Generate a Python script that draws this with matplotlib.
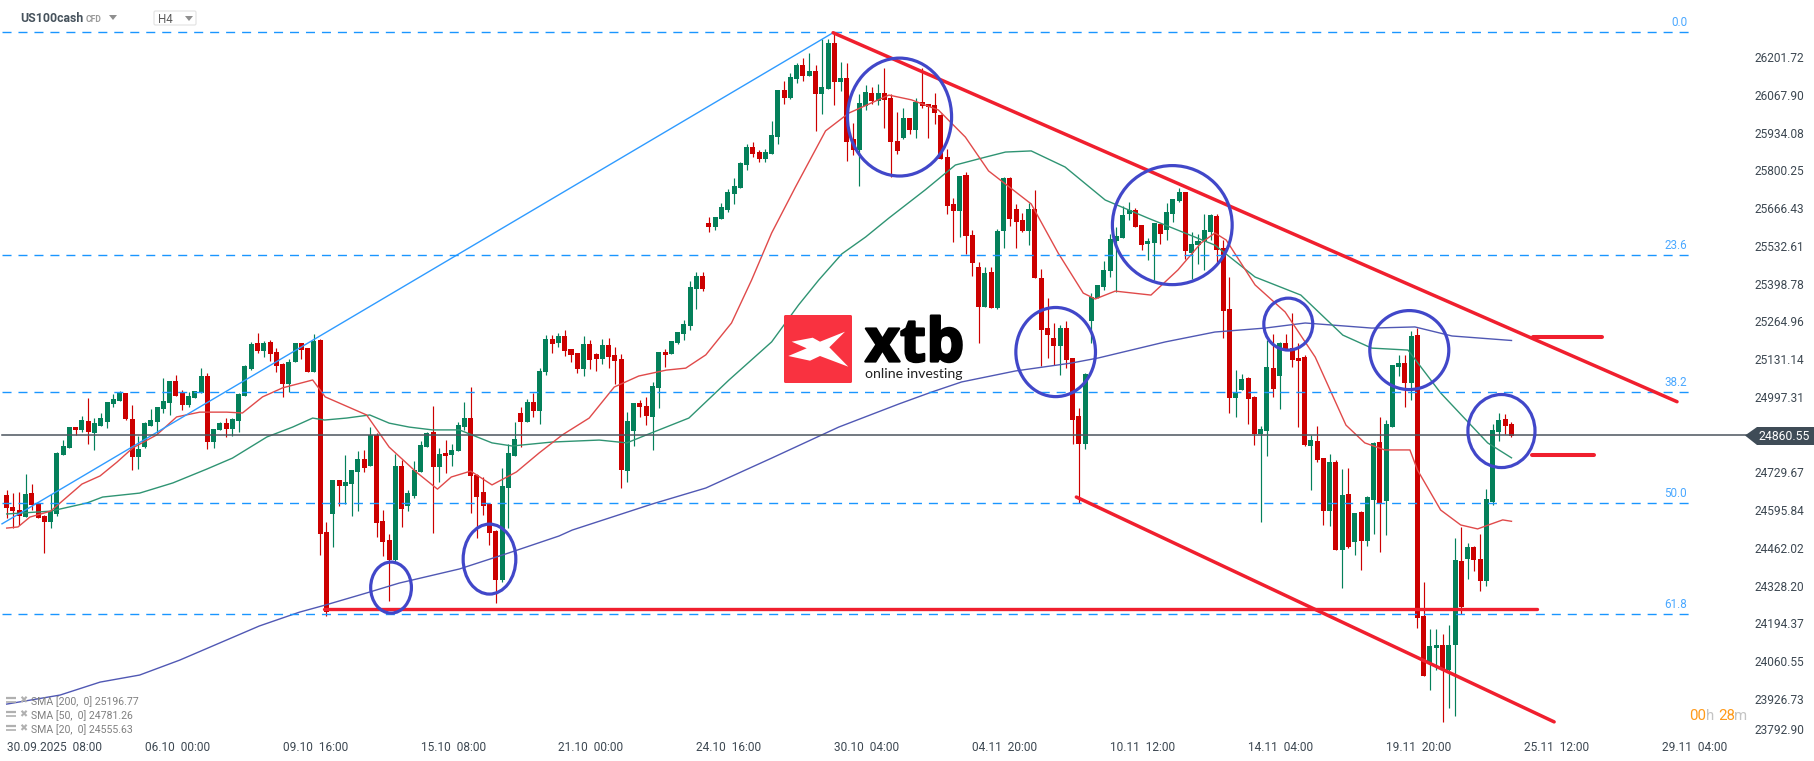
import matplotlib
matplotlib.use('Agg')
import matplotlib.pyplot as plt
import matplotlib.patheffects as pe
import numpy as np
from matplotlib.patches import Ellipse, FancyBboxPatch

opens = [24649, 24607, 24595, 24573, 24656, 24619, 24575, 24554, 24582, 24791,
         24816, 24890, 24880, 24910, 24869, 24894, 24908, 24972, 24983, 25010,
         24919, 24784, 24819, 24894, 24908, 24954, 24975, 25053, 25011, 24968,
         24993, 25012, 25071, 24837, 24880, 24905, 24883, 24912, 25000, 25096,
         25188, 25160, 25192, 25156, 25114, 25043, 25121, 25188, 25170, 25085,
         25199, 24518, 24582, 24702, 24681, 24688, 24731, 24777, 24752, 24862,
         24557, 24490, 24419, 24752, 24610, 24646, 24731, 24819, 24873, 24749,
         24798, 24791, 24805, 24890, 24922, 24720, 24660, 24617, 24521, 24348,
         24674, 24787, 24940, 24908, 24979, 24947, 25085, 25202, 25188, 25212,
         25166, 25152, 25095, 25184, 25149, 25131, 25181, 25145, 25131, 24734,
         24876, 24975, 24964, 24925, 25028, 25156, 25149, 25188, 25220, 25248,
         25380, 25426, 25613, 25599, 25628, 25660, 25716, 25738, 25819, 25883,
         25865, 25840, 25858, 25918, 26085, 26057, 26124, 26174, 26135, 26152,
         26071, 26088, 26252, 26113, 26127, 25911, 25872, 26028, 26074, 26046,
         26074, 26057, 25904, 25915, 25986, 25943, 26043, 26036, 26032, 25997,
         25848, 25681, 25656, 25784, 25571, 25457, 25315, 25440, 25312, 25585,
         25773, 25663, 25624, 25585, 25663, 25418, 25241, 25206, 25177, 25241,
         25135, 24929, 24830, 25266, 25346, 25386, 25443, 25549, 25560, 25645,
         25659, 25606, 25539, 25542, 25610, 25588, 25645, 25691, 25723, 25507,
         25535, 25549, 25581, 25638, 25525, 25308, 24993, 25021, 25064, 24996,
         24865, 24876, 25099, 25071, 25188, 25170, 25135, 25138, 24823, 24840,
         24780, 24592, 24766, 24454, 24653, 24482, 24589, 24486, 24631, 24837,
         24628, 24890, 25103, 25117, 25046, 25216, 24220, 24052, 24106, 24117,
         24028, 24117, 24415, 24422, 24464, 24422, 24344, 24624, 24872, 24918,
         24901]
closes = [24604, 24593, 24576, 24652, 24614, 24569, 24554, 24591, 24798, 24823,
          24890, 24880, 24914, 24873, 24905, 24922, 24978, 24990, 25013, 24918,
          24784, 24812, 24905, 24915, 24961, 24983, 25053, 25000, 24968, 25000,
          25018, 25071, 24837, 24883, 24905, 24883, 24919, 25007, 25107, 25185,
          25160, 25188, 25149, 25106, 25043, 25121, 25188, 25163, 25085, 25195,
          24511, 24236, 24702, 24681, 24695, 24738, 24777, 24745, 24862, 24550,
          24483, 24419, 24752, 24600, 24656, 24738, 24827, 24869, 24749, 24795,
          24788, 24809, 24897, 24922, 24716, 24642, 24610, 24514, 24348, 24681,
          24798, 24847, 24908, 24979, 24947, 25088, 25202, 25184, 25212, 25159,
          25145, 25095, 25184, 25127, 25131, 25181, 25138, 25124, 24737, 24911,
          24975, 24961, 24929, 25035, 25156, 25145, 25195, 25227, 25255, 25386,
          25426, 25380, 25599, 25635, 25670, 25723, 25745, 25826, 25883, 25858,
          25840, 25865, 25925, 26085, 26057, 26131, 26174, 26135, 26152, 26071,
          26096, 26252, 26113, 26127, 25901, 25872, 26039, 26078, 26046, 26074,
          26050, 25901, 25869, 25986, 25943, 26043, 26029, 26025, 26004, 25841,
          25674, 25656, 25780, 25568, 25472, 25315, 25436, 25312, 25585, 25773,
          25627, 25617, 25585, 25663, 25418, 25234, 25216, 25177, 25241, 25128,
          24915, 24830, 25078, 25351, 25393, 25447, 25557, 25567, 25642, 25659,
          25599, 25535, 25549, 25613, 25574, 25652, 25698, 25723, 25514, 25539,
          25549, 25588, 25642, 25518, 25301, 24993, 25014, 25060, 24989, 24865,
          24883, 25103, 25025, 25188, 25163, 25128, 25124, 24826, 24844, 24773,
          24592, 24766, 24454, 24649, 24465, 24585, 24486, 24642, 24833, 24621,
          24901, 25110, 25117, 25046, 25213, 24213, 24007, 24113, 24117, 24028,
          24117, 24418, 24252, 24464, 24418, 24344, 24635, 24879, 24915, 24893,
          24860]
highs = [24667, 24658, 24661, 24724, 24688, 24626, 24578, 24653, 24802, 24844,
         24890, 24890, 24929, 24993, 24921, 24940, 24978, 25007, 25018, 25012,
         24968, 24858, 24908, 24954, 24961, 25064, 25053, 25075, 25022, 25014,
         25018, 25100, 25082, 24883, 24909, 24922, 24921, 25010, 25110, 25192,
         25223, 25195, 25199, 25170, 25118, 25131, 25188, 25188, 25172, 25220,
         25202, 24554, 24702, 24702, 24791, 24738, 24805, 24809, 24890, 24869,
         24596, 24511, 24795, 24773, 24667, 24770, 24841, 24874, 24965, 24816,
         24844, 24830, 24909, 24979, 25032, 24723, 24713, 24622, 24525, 24745,
         24830, 24908, 24961, 24989, 25010, 25100, 25216, 25216, 25223, 25234,
         25166, 25152, 25212, 25198, 25152, 25202, 25205, 25173, 25149, 24943,
         24975, 24986, 24996, 25049, 25156, 25166, 25195, 25227, 25269, 25407,
         25440, 25440, 25635, 25635, 25684, 25734, 25773, 25830, 25894, 25901,
         25872, 25876, 25975, 26085, 26117, 26145, 26181, 26198, 26216, 26174,
         26266, 26266, 26283, 26184, 26181, 25967, 26071, 26103, 26096, 26106,
         26163, 26071, 26007, 26021, 25986, 26057, 26163, 26036, 26075, 26000,
         25876, 25702, 25780, 25795, 25589, 25475, 25457, 25457, 25592, 25776,
         25776, 25681, 25649, 25684, 25730, 25450, 25347, 25259, 25252, 25266,
         25135, 24957, 25082, 25364, 25393, 25479, 25574, 25599, 25674, 25688,
         25666, 25606, 25560, 25613, 25610, 25684, 25698, 25737, 25723, 25581,
         25574, 25645, 25645, 25645, 25553, 25422, 25092, 25078, 25067, 25000,
         24894, 25199, 25220, 25191, 25220, 25294, 25188, 25145, 24862, 24894,
         24780, 24794, 24773, 24741, 24745, 24585, 24592, 24646, 24837, 24926,
         24915, 25110, 25145, 25145, 25230, 25242, 24340, 24174, 24174, 24156,
         24188, 24496, 24535, 24479, 24468, 24511, 24670, 24901, 24939, 24936,
         24908]
lows = [24567, 24532, 24543, 24573, 24596, 24567, 24445, 24532, 24575, 24791,
        24816, 24862, 24874, 24830, 24809, 24894, 24886, 24961, 24983, 24915,
        24738, 24741, 24816, 24894, 24868, 24939, 24933, 25000, 24951, 24962,
        24993, 25012, 24812, 24816, 24880, 24856, 24858, 24873, 25000, 25092,
        25154, 25140, 25124, 25085, 24996, 25016, 25121, 25131, 25085, 25085,
        24437, 24220, 24466, 24610, 24617, 24575, 24593, 24731, 24752, 24500,
        24433, 24274, 24413, 24536, 24593, 24639, 24731, 24818, 24515, 24695,
        24727, 24752, 24805, 24879, 24585, 24496, 24578, 24472, 24266, 24340,
        24532, 24787, 24819, 24908, 24925, 24901, 25074, 25152, 25173, 25142,
        25120, 25081, 25071, 25095, 25088, 25113, 25099, 25042, 24674, 24695,
        24823, 24925, 24897, 24808, 24957, 25103, 25149, 25184, 25198, 25234,
        25309, 25372, 25582, 25589, 25628, 25652, 25681, 25738, 25801, 25847,
        25830, 25830, 25858, 25894, 26035, 26053, 26110, 26117, 26135, 25940,
        26000, 26088, 26032, 26081, 25833, 25855, 25745, 26014, 26035, 26032,
        25950, 25777, 25858, 25912, 25929, 25915, 26021, 25915, 25965, 25841,
        25646, 25546, 25563, 25504, 25426, 25188, 25315, 25312, 25308, 25525,
        25603, 25525, 25581, 25535, 25418, 25106, 25135, 25110, 25074, 25099,
        24830, 24622, 24812, 25188, 25346, 25376, 25422, 25369, 25560, 25624,
        25599, 25518, 25482, 25411, 25539, 25553, 25617, 25688, 25486, 25415,
        25468, 25447, 25553, 25475, 25206, 24940, 24926, 25021, 24901, 24826,
        24554, 24787, 24996, 24954, 25163, 25103, 24890, 24823, 24667, 24766,
        24543, 24539, 24454, 24319, 24461, 24436, 24383, 24468, 24511, 24447,
        24507, 24890, 25071, 24961, 24986, 24177, 24007, 23957, 24028, 23844,
        23894, 23865, 24227, 24351, 24379, 24308, 24326, 24613, 24840, 24867,
        24854]

sma20_bar = [0, 1.8, 3.7, 7, 12, 14.9, 17.6, 20.1, 23.9, 27.1, 30.8, 35.1, 37.6, 40.8, 44, 48.8,
             50.8, 57.4, 61, 65.3, 68.7, 70.9, 74, 77.4, 81.3, 84.9, 88.6, 92.9, 96.9, 100.8,
             105.2, 108.3, 111.5, 115.6, 118.8, 122, 125.8, 130.6, 134.3, 140.7, 144.3, 148.6,
             152.9, 156.6, 163.4, 167.7, 171.7, 173.6, 176.8, 182.5, 186.8, 190.5, 192.7, 194.5,
             199.1, 203.9, 208.7, 213.6, 216.6, 219.8, 223.8, 225, 228.7, 231.9, 234.6, 236.7,
             238.6, 240]
sma20 = [24532, 24536, 24571, 24592, 24688, 24717, 24766, 24816, 24862, 24926, 24943, 24943, 24940,
         24997, 25029, 25057, 24997, 24933, 24819, 24731, 24670, 24713, 24734, 24685, 24731, 24798,
         24862, 24922, 25032, 25071, 25092, 25099, 25146, 25259, 25411, 25578, 25741, 25940, 26003,
         26067, 26050, 26014, 25918, 25798, 25681, 25507, 25365, 25344, 25372, 25358, 25447, 25543,
         25578, 25553, 25394, 25298, 25138, 24897, 24834, 24809, 24809, 24738, 24596, 24543, 24529,
         24546, 24561, 24556]
sma50_bar = [0, 7, 12.8, 15.3, 21.2, 26.5, 31.9, 36, 41.5, 45.6, 48.8, 50.7, 54.2, 57.9, 61, 64.2,
             67.9, 72.2, 77.4, 80.6, 87, 94.5, 98.9, 102, 108.8, 115.2, 122, 126.3, 129.5, 133.2,
             137, 140.7, 146.5, 151.3, 156.1, 159.3, 163.4, 168.8, 175.2, 182, 192.7, 199.1, 206.4,
             213.1, 217.7, 223.5, 228.7, 236.2, 240]
sma50 = [24582, 24592, 24621, 24642, 24656, 24692, 24741, 24780, 24855, 24890, 24922, 24915, 24922,
         24933, 24904, 24890, 24880, 24880, 24834, 24823, 24837, 24844, 24834, 24862, 24922, 25057,
         25192, 25323, 25411, 25504, 25564, 25631, 25731, 25819, 25847, 25865, 25869, 25812, 25695,
         25631, 25535, 25422, 25358, 25216, 25170, 25163, 25011, 24834, 24781]
sma200_bar = [0, 8.5, 14.9, 21.2, 27.6, 34, 40.3, 46.7, 50.8, 57.4, 62.6, 72.2, 80.1, 88.1, 90.2,
              102.9, 111.5, 122, 132.7, 142.3, 147.5, 152.3, 160.9, 169.8, 174.1, 184.8, 192.7,
              200.7, 207.1, 217.7, 224.6, 230.5, 240]
sma200 = [23908, 23940, 23986, 24011, 24064, 24125, 24185, 24234, 24259, 24302, 24337, 24387, 24444,
          24504, 24525, 24617, 24674, 24780, 24890, 24972, 25014, 25050, 25089, 25117, 25135, 25192,
          25227, 25241, 25259, 25241, 25245, 25213, 25197]

fib_labels = ['0.0', '23.6', '38.2', '50.0', '61.8']
fib_prices = [26289, 25501, 25014, 24620, 24226]
last_price = 24860.55

price_ticks = [26201.72, 26067.90, 25934.08, 25800.25, 25666.43, 25532.61, 25398.78, 25264.96,
               25131.14, 24997.31, 24729.67, 24595.84, 24462.02, 24328.20, 24194.37, 24060.55,
               23926.73, 23792.90]
date_labels = ['30.09.2025  08:00', '06.10  00:00', '09.10  16:00', '15.10  08:00', '21.10  00:00',
               '24.10  16:00', '30.10  04:00', '04.11  20:00', '10.11  12:00', '14.11  04:00',
               '19.11  20:00', '25.11  12:00', '29.11  04:00']
legend_rows = ['SMA [200,  0] 25196.77', 'SMA [50,  0] 24781.26', 'SMA [20,  0] 24555.63']

# drawn levels and circles, in bars and price
fib_line = ([-0.75, 131.8], [24547, 26288])
upper_trend = ([131.8, 266.4], [26288, 24980])
lower_trend = ([170.6, 246.8], [24642, 23845])
support = ([50.6, 244], [24245, 24245])
short_top = ([243.4, 254.4], [25208, 25208])
short_bottom = ([243.2, 253.2], [24790, 24790])
circle_bar = [61.3, 77, 142.4, 167.3, 185.9, 204.4, 223.7, 238.4]
circle_price = [24321, 24422, 25989, 25156, 25606, 25255, 25163, 24876]
circle_w = [6.5, 8.4, 16.6, 12.7, 19.1, 7.8, 12.6, 10.7]
circle_h = [181, 248, 418, 316, 422, 184, 280, 259]

GREEN = '#04805a'
RED = '#cc0000'
MARK_RED = '#f01f2e'
RING = '#4147c9'
FIB = '#1a96ff'
TEXT = '#3d4852'

plt.rcParams['font.family'] = ['Roboto', 'DejaVu Sans']

fig = plt.figure(figsize=(18.15, 7.61), dpi=100)
ax = fig.add_axes([0, (761 - 737.5) / 761, 1750 / 1815, 737.5 / 761])
ax.set_xlim(-1.069, 278.04)
ax.set_ylim(23789.6, 26404)
for s in ax.spines.values():
  s.set_visible(False)

x = np.arange(len(opens))
o = np.array(opens)
c = np.array(closes)
colors = [GREEN if b >= a else RED for a, b in zip(o, c)]
ax.vlines(x, lows, highs, colors=colors, linewidth=0.85, zorder=2)
ax.bar(x, np.abs(c - o), bottom=np.minimum(o, c), width=0.8, color=colors, linewidth=0, zorder=3)

ax.plot(sma200_bar, sma200, color='#5058b4', lw=1.0, zorder=4)
ax.plot(sma50_bar, sma50, color='#2f9473', lw=1.0, zorder=4)
ax.plot(sma20_bar, sma20, color='#e04a4a', lw=1.0, zorder=4)

ax.plot(*fib_line, color='#2f9bff', lw=1.0, zorder=4)
for price in fib_prices:
  ax.plot([-0.75, 268.6], [price, price], color=FIB, lw=1.0, linestyle=(0, (6.5, 5)), zorder=4)
for name, price in zip(fib_labels, fib_prices):
  ax.annotate(name, (268, price), xytext=(0, 6.8), textcoords='offset points', ha='right', va='center',
              color='#4aa8ff', fontsize=8.4)
ax.plot([-0.75, 278.04], [last_price, last_price], color='#4b555e', lw=1.1, zorder=5)

for line, lw in [(upper_trend, 2.5), (lower_trend, 2.5), (support, 2.4), (short_top, 2.9), (short_bottom, 2.9)]:
  ax.plot(*line, color=MARK_RED, lw=lw, solid_capstyle='round', zorder=6)
for bx, py, w, h in zip(circle_bar, circle_price, circle_w, circle_h):
  ax.add_patch(Ellipse((bx, py), w, h, fill=False, edgecolor=RING, lw=2.3, zorder=7))

ax.set_xticks(np.arange(len(date_labels)) * 22, labels=date_labels, ha='left')
ax.set_yticks(price_ticks, labels=['%.2f' % p for p in price_ticks])
ax.yaxis.tick_right()
ax.tick_params(axis='both', length=0, labelsize=8.6, labelcolor=TEXT)
ax.tick_params(axis='y', pad=3.6)
ax.tick_params(axis='x', pad=2.2)
ax.get_yticklabels()[-1].set_va('bottom')

# overlay in screen pixels for the platform furniture
ui = fig.add_axes([0, 0, 1, 1], facecolor='none')
ui.set_xlim(0, 1815)
ui.set_ylim(761, 0)
ui.axis('off')

ui.fill([1745, 1757, 1815, 1815, 1757], [435.5, 427, 427, 445, 445], color='#3f4c57', lw=0, zorder=3)
ui.text(1810, 436.3, '%.2f' % last_price, color='white', fontsize=8.8, ha='right', va='center', zorder=4)

ui.text(20, 19, 'US100cash', fontsize=8.8, fontweight='bold', color='#46525c', va='center')
ui.text(86, 19.5, 'CFD', fontsize=6.2, fontweight='bold', color='#9a9a9a', va='center')
ui.fill([109, 117, 113], [15, 15, 20], color='#8f8f8f', lw=0)
ui.add_patch(FancyBboxPatch((154, 11), 42, 14, boxstyle='round,pad=0,rounding_size=1.5', fc='white', ec='#e4e4e4', lw=0.9))
ui.text(158, 19.5, 'H4', fontsize=8.4, color='#5b5b5b', va='center')
ui.fill([185, 193, 189], [16, 16, 21], color='#8f8f8f', lw=0)

for i, row in enumerate(legend_rows):
  y = 702 + i * 14
  ui.plot([6, 16], [y - 4, y - 4], color='#b0b0b0', lw=1.6, solid_capstyle='butt')
  ui.plot([6, 16], [y, y], color='#b0b0b0', lw=1.2, solid_capstyle='butt')
  ui.text(23.5, y - 1.5, '✖', fontsize=7, color='#b0b0b0', ha='center', va='center', family='DejaVu Sans')
  ui.text(31, y, row, fontsize=7.6, color='#808080', va='center')

ui.text(1689, 716, '00', fontsize=10.8, color='#ff9a1a', va='center')
ui.text(1706, 716, 'h', fontsize=10.8, color='#c4c4c4', va='center')
ui.text(1718, 716, '28', fontsize=10.8, color='#ff9a1a', va='center')
ui.text(1734, 716, 'm', fontsize=10.8, color='#c4c4c4', va='center')

ui.add_patch(FancyBboxPatch((784, 315), 68, 68, boxstyle='round,pad=0,rounding_size=1.5', fc='#f93240', ec='none', zorder=5))
ui.fill([791.7, 812.7, 820, 845, 829.3, 848.3, 820, 810, 788.3, 806.7],
        [341.7, 337.7, 341.7, 331.7, 347.3, 366.7, 356, 360.7, 356, 348.3], color='white', lw=0, zorder=6)
ui.text(865, 361.5, 'xtb', fontsize=43.5, fontweight='bold', family='Open Sans', color='black', va='baseline', zorder=6,
        path_effects=[pe.withStroke(linewidth=1.6, foreground='black')])
ui.text(865, 374, 'online investing', fontsize=10.2, family='Lato', color='#222222', va='center', zorder=6)

fig.savefig('out.png', dpi=100)
